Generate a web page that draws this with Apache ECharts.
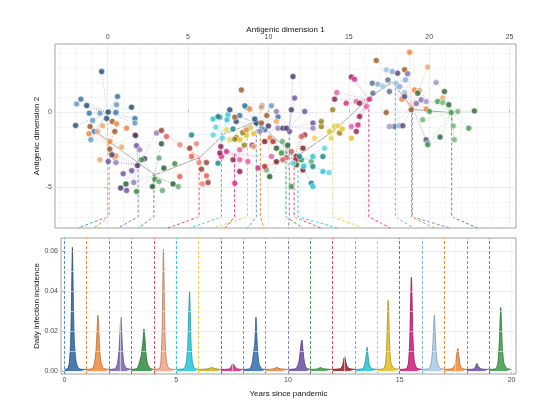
<!DOCTYPE html>
<html><head><meta charset="utf-8">
<script src="https://cdn.jsdelivr.net/npm/echarts@6/dist/echarts.min.js"></script>
<style>html,body{margin:0;padding:0;background:#fff}#c{width:536px;height:416px}</style>
</head><body><div id="c"></div>
<script>
// ---------------- DATA ----------------
const years = [0,1,2,3,4,5,6,7,8,9,10,11,12,13,14,15,16,17,18,19];
const centerX = [0.0, 0.1, 1.9, 2.88, 5.69, 7.08, 8.7, 7.9, 9.25, 9.5, 11.3, 11.1, 11.6, 11.84, 14.0, 16.25, 17.9, 18.9, 18.95, 21.4];
const centerY = [0.0, -2.3, -3.5, -4.2, -3.0, -1.45, -1.7, -2.8, -0.8, -0.7, -1.0, -2.6, -3.0, -3.2, -1.3, 0.9, 2.0, 0.2, 0.35, 0.0];
const pathX = [-1.1, 2.95, 5.75, 7.3, 9.3, 11.7, 14.1, 16.3, 17.7, 19.0, 21.3];
const pathY = [-1.0, -4.2, -3.0, -1.4, -0.6, -3.0, -1.2, 1.0, 2.05, 0.2, 0.0];

const pts0 = [[-0.37,2.75],[-1.66,0.9],[-1.93,0.58],[-1.3,0.47],[0.62,1.07],[0.56,0.52],[1.49,0.36],[-1.14,-0.04],[-0.48,-0.04],[0.04,0.03],[0.52,0.0],[-0.93,-0.54],[-0.06,-0.4],[1.7,-0.4],[1.7,-0.71],[-1.99,-0.87],[-0.83,-1.27],[-1.04,-1.83]];
const pts1 = [[0.29,-0.6],[0.56,-0.76],[-0.31,-0.89],[-1.09,-0.94],[-1.16,-1.43],[-0.62,-1.27],[0.45,-1.27],[0.14,-1.95],[0.87,-2.32],[0.14,-2.46],[0.45,-3.0],[-0.48,-3.17],[1.7,-1.5],[1.18,-1.05],[0.52,-2.9]];
const pts2 = [[1.74,-1.54],[1.8,-2.23],[2.0,-2.5],[0.27,-2.84],[0.04,-3.29],[0.52,-3.36],[1.86,-3.56],[0.97,-4.11],[1.63,-4.7],[0.81,-5.07],[1.18,-5.23],[3.04,-1.38],[2.3,-3.1],[1.5,-3.9]];
const pts3 = [[3.35,-2.1],[2.11,-3.17],[3.2,-3.06],[3.5,-3.73],[2.94,-4.47],[3.2,-4.63],[1.14,-4.79],[1.8,-5.3],[3.41,-5.23],[2.79,-4.97],[4.18,-3.44],[4.39,-4.97],[4.07,-4.79]];
const pts4 = [[3.35,-1.21],[3.66,-1.61],[4.49,-2.17],[5.11,-2.39],[5.22,-2.95],[5.69,-3.36],[5.84,-3.8],[6.15,-4.25],[5.9,-4.79],[6.25,-4.7],[4.49,-4.3],[5.53,-2.1],[6.15,-3.36]];
const pts5 = [[5.22,-1.5],[6.56,-0.44],[6.73,-0.98],[6.98,-0.31],[7.49,-0.15],[7.14,-1.72],[6.87,-3.4],[7.43,-0.49],[6.56,-1.5],[6.87,-0.27],[8.63,0.36],[8.84,-1.05],[7.8,-1.1]];
const pts6 = [[8.01,-1.68],[8.22,-1.83],[7.6,-1.83],[7.91,-1.79],[8.63,-1.5],[7.39,-1.16],[8.5,-2.2],[9.1,-1.4],[8.9,-1.0],[8.4,-1.35]];
const pts7 = [[7.04,-2.28],[7.39,-2.62],[8.22,-2.5],[7.8,-3.17],[7.08,-2.95],[8.73,-3.29],[8.22,-3.96],[9.35,-3.73],[10.19,-2.95],[6.98,-2.72],[7.91,-4.74],[8.22,-3.17],[9.0,-2.2]];
const pts8 = [[7.6,0.18],[8.22,-0.2],[9.6,0.45],[9.25,-0.71],[8.53,0.45],[10.19,0.45],[9.15,-0.44],[9.77,-1.16],[9.57,-1.05],[8.0,-0.6],[10.6,-0.3]];
const pts9 = [[8.32,1.52],[8.84,0.23],[9.57,0.36],[9.57,-0.71],[8.63,-1.16],[10.5,-0.6],[7.91,-0.31],[10.1,-1.7],[9.1,-2.3],[9.9,-0.2]];
const pts10 = [[11.53,2.42],[11.63,0.97],[10.5,0.07],[11.43,0.18],[12.26,0.07],[10.6,-1.05],[10.9,-1.05],[11.32,-1.27],[9.46,-1.27],[11.12,-1.05],[12.77,-0.71],[12.77,-1.05],[10.0,-0.9]];
const pts11 = [[10.5,-2.39],[10.81,-2.72],[9.88,-3.85],[11.74,-3.51],[12.05,-3.17],[12.67,-3.29],[10.08,-4.3],[11.43,-4.97],[10.87,-1.95],[11.2,-2.2]];
const pts12 = [[9.77,-1.95],[10.29,-1.95],[11.43,-2.62],[11.74,-2.95],[9.77,-3.62],[11.12,-3.02],[12.15,-3.85],[12.26,-1.5],[12.05,-1.61],[12.15,-2.39],[11.7,-3.17],[10.9,-3.17],[10.5,-3.3]];
const pts13 = [[11.94,-2.95],[12.77,-2.95],[13.5,-2.39],[12.77,-3.62],[13.39,-3.96],[13.77,-4.03],[12.67,-4.74],[12.77,-4.97],[11.53,-3.4],[13.39,-2.95],[12.2,-3.6]];
const pts14 = [[14.0,0.18],[14.12,-0.94],[14.32,-0.89],[14.43,-1.38],[13.81,-1.27],[12.87,-1.72],[13.29,-0.94],[15.16,-1.72],[13.91,-1.72],[13.29,-0.6],[14.6,-1.1]];
const pts15 = [[15.16,2.38],[15.36,2.24],[14.26,1.34],[14.12,0.9],[14.84,0.63],[15.47,0.74],[15.67,0.63],[16.29,0.9],[16.09,0.4],[15.67,-0.27],[15.57,-0.83],[15.16,-0.94],[15.47,-1.27]];
const pts16 = [[16.46,1.97],[16.81,1.9],[17.12,1.74],[17.43,2.19],[17.7,2.75],[17.95,1.97],[17.53,1.41],[18.16,1.74],[18.47,1.34],[16.5,1.3],[18.53,2.19],[17.33,2.87],[17.84,-0.94],[18.16,-0.89]];
const pts17 = [[16.71,3.49],[18.78,4.05],[19.91,3.05],[18.47,2.87],[19.09,1.52],[19.4,1.48],[18.88,0.18],[19.81,0.23],[20.84,0.97],[17.33,0.0],[18.3,0.9]];
const pts18 = [[18.04,2.64],[18.66,2.6],[20.43,2.01],[18.47,1.07],[19.5,0.85],[19.81,0.74],[19.81,-1.83],[19.91,-2.06],[17.53,-0.94],[18.36,-0.89],[19.2,0.6]];
const pts19 = [[20.95,1.41],[20.53,0.74],[20.84,0.67],[21.22,0.52],[21.37,0.0],[21.78,0.07],[22.81,0.11],[22.46,-1.05],[21.57,-1.83],[20.68,-1.65],[19.91,-2.17],[19.6,-0.49],[19.29,1.3],[20.02,0.07],[21.5,-0.9]];
const clusterPoints = [pts0,pts1,pts2,pts3,pts4,pts5,pts6,pts7,pts8,pts9,pts10,pts11,pts12,pts13,pts14,pts15,pts16,pts17,pts18,pts19];

const season0 = [[0,0.0008],[0.15,0.0012],[0.22,0.004],[0.28,0.014],[0.32,0.035],[0.345,0.055],[0.36,0.062],[0.38,0.05],[0.41,0.03],[0.45,0.014],[0.52,0.005],[0.62,0.0015],[0.75,0.0009],[1,0.0008]];
const season1 = [[1,0.0008],[1.25,0.0012],[1.35,0.004],[1.42,0.011],[1.47,0.022],[1.5,0.028],[1.53,0.024],[1.57,0.013],[1.63,0.005],[1.72,0.0018],[1.85,0.001],[2,0.0008]];
const season2 = [[2,0.0008],[2.28,0.0012],[2.38,0.004],[2.45,0.011],[2.5,0.022],[2.53,0.027],[2.56,0.021],[2.6,0.011],[2.66,0.004],[2.76,0.0015],[3,0.0008]];
const season3 = [[3,0.0008],[3.25,0.0013],[3.35,0.004],[3.44,0.008],[3.51,0.014],[3.56,0.021],[3.6,0.017],[3.65,0.009],[3.72,0.0035],[3.85,0.0013],[4,0.0008]];
const season4 = [[4,0.0008],[4.25,0.0012],[4.32,0.005],[4.37,0.02],[4.405,0.046],[4.43,0.061],[4.455,0.05],[4.49,0.024],[4.54,0.008],[4.62,0.0022],[4.75,0.001],[5,0.0008]];
const season5 = [[5,0.0008],[5.35,0.0012],[5.45,0.004],[5.52,0.013],[5.565,0.03],[5.6,0.04],[5.63,0.03],[5.67,0.013],[5.73,0.004],[5.83,0.0013],[6,0.0008]];
const season6 = [[6,0.0008],[6.35,0.001],[6.5,0.0014],[6.59,0.0018],[6.7,0.0013],[6.85,0.001],[7,0.0008]];
const season7 = [[7,0.0008],[7.35,0.001],[7.45,0.002],[7.53,0.0036],[7.6,0.0028],[7.7,0.0013],[7.85,0.0009],[8,0.0008]];
const season8 = [[8,0.0008],[8.3,0.0012],[8.4,0.004],[8.47,0.01],[8.51,0.013],[8.55,0.022],[8.57,0.027],[8.6,0.02],[8.65,0.009],[8.72,0.003],[8.85,0.001],[9,0.0008]];
const season9 = [[9,0.0008],[9.3,0.001],[9.42,0.0014],[9.51,0.0018],[9.6,0.0013],[9.75,0.001],[10,0.0008]];
const season10 = [[10,0.0008],[10.35,0.0012],[10.48,0.004],[10.55,0.01],[10.6,0.015],[10.63,0.0155],[10.67,0.011],[10.73,0.005],[10.82,0.0015],[11,0.0008]];
const season11 = [[11,0.0008],[11.3,0.001],[11.4,0.0015],[11.46,0.0018],[11.55,0.0013],[11.7,0.001],[12,0.0008]];
const season12 = [[12,0.0008],[12.35,0.0012],[12.45,0.003],[12.5,0.006],[12.54,0.0072],[12.58,0.005],[12.64,0.0025],[12.75,0.0012],[13,0.0008]];
const season13 = [[13,0.0008],[13.35,0.0012],[13.45,0.004],[13.51,0.009],[13.54,0.012],[13.58,0.008],[13.64,0.003],[13.75,0.0012],[14,0.0008]];
const season14 = [[14,0.0008],[14.28,0.0012],[14.37,0.004],[14.42,0.014],[14.455,0.028],[14.48,0.0355],[14.51,0.028],[14.55,0.012],[14.61,0.004],[14.72,0.0015],[15,0.0008]];
const season15 = [[15,0.0008],[15.3,0.0012],[15.39,0.004],[15.45,0.016],[15.49,0.036],[15.52,0.047],[15.55,0.037],[15.59,0.017],[15.65,0.005],[15.76,0.0015],[16,0.0008]];
const season16 = [[16,0.0008],[16.3,0.0012],[16.41,0.004],[16.48,0.013],[16.52,0.023],[16.55,0.028],[16.58,0.022],[16.62,0.011],[16.68,0.004],[16.8,0.0014],[17,0.0008]];
const season17 = [[17,0.0008],[17.35,0.0012],[17.47,0.003],[17.54,0.008],[17.6,0.0113],[17.64,0.008],[17.7,0.003],[17.8,0.0012],[18,0.0008]];
const season18 = [[18,0.0008],[18.3,0.001],[18.38,0.002],[18.45,0.0038],[18.5,0.0025],[18.6,0.0013],[18.75,0.0009],[19,0.0008]];
const season19 = [[19,0.0008],[19.3,0.0012],[19.39,0.004],[19.45,0.014],[19.49,0.026],[19.52,0.032],[19.55,0.025],[19.59,0.012],[19.66,0.004],[19.78,0.0014],[20,0.0008]];
const seasons = [season0,season1,season2,season3,season4,season5,season6,season7,season8,season9,season10,season11,season12,season13,season14,season15,season16,season17,season18,season19];

const xTicksTop = [0,5,10,15,20,25];
const yTicksTop = [-5,0];
const xTicksBottom = [0,5,10,15,20];
const yTicksBottom = [0,0.02,0.04,0.06];
const yLabelsBottom = ['0.00','0.02','0.04','0.06'];

// ---------------- STYLE ----------------
const clusterColors = ['#2f6fad','#ee8133','#6a4ea0','#2e8b3e','#e4574a','#22c3d4','#e2bf1e','#d6237e','#2f6fad','#ee8133','#6a4ea0','#2e8b3e','#b8222c','#22c3d4','#e2bf1e','#d6237e','#7fa8d6','#ee8133','#7b6bb0','#3d9a4a'];
const peakColors = ['#2b63a0','#f08a3a','#7a62b0','#2e8b3e','#f3a283','#22c8d8','#cdb21c','#d6237e','#2f6fad','#e88a3a','#6a4ea0','#3d9a4a','#9b1c24','#22c3d4','#e2bf1e','#cf1877','#a8c9e6','#f08a3a','#6a4ea0','#3d9a4a'];
const dashColors = ['#5b8fc7','#f0883a','#8a7fc0','#4f9e5a','#e8505a','#2fd0e0','#ecd040','#e0408e','#5b9bd5','#f0883a','#8a7fc0','#4f9e5a','#e8505a','#2fd0e0','#ecd040','#e0408e','#7fb3e0','#f0883a','#8c8cb8','#4f9e5a'];
const FONT = "'Liberation Sans', Arial, sans-serif";

function mix(hex, target, t){
  const r=parseInt(hex.slice(1,3),16), g=parseInt(hex.slice(3,5),16), b=parseInt(hex.slice(5,7),16);
  const f=(c)=>Math.round(c+(target-c)*t);
  return 'rgb('+f(r)+','+f(g)+','+f(b)+')';
}
function shade(hex,i){ const m=i%3; if(m===0) return mix(hex,0,0.35); if(m===2) return mix(hex,255,0.25); return hex; }

const X1=[-3.27,25.4], Y1=[-7.75,4.6], X2=[-0.15,20.2], Y2=[-0.0015,0.0667];
const bendY = -7.0;

const chart = echarts.init(document.getElementById('c'), null, {renderer:'canvas'});

function gridLines(xs, ys, colorFn){
  const d=[];
  xs.forEach(v=>d.push({xAxis:v, lineStyle:{color:colorFn(v,'x'), width:0.6, type:'solid'}}));
  ys.forEach(v=>d.push({yAxis:v, lineStyle:{color:colorFn(v,'y'), width:0.6, type:'solid'}}));
  return d;
}
const topGX=[], topGY=[], botGY=[], botGX=[];
for(let v=-3; v<=25; v++) topGX.push(v);
for(let v=-7; v<=4; v++) topGY.push(v);
for(let v=0; v<=6; v++) botGY.push(v/100);
for(let v=0; v<=8; v++) botGX.push(v*2.5);

const series=[];
series.push({
  type:'line', xAxisIndex:0, yAxisIndex:0, z:1, silent:true,
  data: pathX.map((x,i)=>[x,pathY[i]]), showSymbol:false,
  lineStyle:{color:'#a8a8a8', width:1},
  markLine:{silent:true, symbol:['none','none'], label:{show:false}, animation:false,
    data: gridLines(topGX, topGY, (v)=> (v%5===0 ? '#e2e2e2':'#efefef'))}
});
series.push({
  type:'line', xAxisIndex:1, yAxisIndex:1, z:0, silent:true, data:[[0,0]], showSymbol:false,
  lineStyle:{opacity:0},
  markLine:{silent:true, symbol:['none','none'], label:{show:false}, animation:false,
    data: gridLines(botGX, botGY, (v,a)=> a==='y' ? (Math.round(v*100)%2===0?'#e2e2e2':'#efefef') : '#f2f2f2')}
});
series.push({
  type:'line', xAxisIndex:1, yAxisIndex:1, z:1, silent:true, data:[[0,0]], showSymbol:false,
  lineStyle:{opacity:0},
  markLine:{silent:true, symbol:['none','none'], label:{show:false}, animation:false,
    data: years.map((y,k)=>({xAxis:y, lineStyle:{color:dashColors[k], width:1, type:[3,2]}}))}
});
clusterPoints.forEach((pts,k)=>{
  series.push({
    type:'lines', coordinateSystem:'cartesian2d', xAxisIndex:0, yAxisIndex:0, z:2, silent:true,
    data: pts.map(p=>({coords:[p,[centerX[k],centerY[k]]]})),
    lineStyle:{color:clusterColors[k], width:0.7, type:[1,1.5], opacity:0.55}
  });
});
clusterPoints.forEach((pts,k)=>{
  series.push({
    type:'scatter', xAxisIndex:0, yAxisIndex:0, z:5, silent:true,
    data: pts, symbolSize:6,
    itemStyle:{color:(p)=>shade(clusterColors[k],p.dataIndex), borderColor:'rgba(255,255,255,0.8)', borderWidth:0.8}
  });
});
seasons.forEach((s,k)=>{
  series.push({
    type:'line', xAxisIndex:1, yAxisIndex:1, z:3, silent:true,
    data:s, showSymbol:false, smooth:0.2,
    lineStyle:{color:mix(peakColors[k],0,0.25), width:0.8},
    areaStyle:{color:peakColors[k], opacity:0.85}
  });
});

const axisLabelStyle = {fontSize:7, color:'#4d4d4d', fontFamily:FONT};
const nameStyle = {fontSize:8, color:'#111', fontFamily:FONT};
const option = {
  animation:false,
  backgroundColor:'#fff',
  grid:[
    {left:55, top:44, width:461, height:184, show:true, borderColor:'#8a8a8a', borderWidth:0.8, backgroundColor:'transparent'},
    {left:61, top:238, width:455, height:136, show:true, borderColor:'#8a8a8a', borderWidth:0.8, backgroundColor:'transparent'}
  ],
  xAxis:[
    {gridIndex:0, type:'value', position:'top', min:X1[0], max:X1[1],
      axisLine:{show:false}, splitLine:{show:false},
      axisTick:{show:true, length:3, customValues:xTicksTop, lineStyle:{color:'#444', width:0.7}},
      axisLabel:{show:true, customValues:xTicksTop, margin:3, ...axisLabelStyle},
      name:'Antigenic dimension 1', nameLocation:'middle', nameGap:10, nameMoveOverlap:false, nameTextStyle:nameStyle},
    {gridIndex:1, type:'value', position:'bottom', min:X2[0], max:X2[1],
      axisLine:{show:false}, splitLine:{show:false},
      axisTick:{show:true, length:3, customValues:xTicksBottom, lineStyle:{color:'#444', width:0.7}},
      axisLabel:{show:true, customValues:xTicksBottom, margin:3, ...axisLabelStyle},
      name:'Years since pandemic', nameLocation:'middle', nameGap:16, nameMoveOverlap:false, nameTextStyle:nameStyle}
  ],
  yAxis:[
    {gridIndex:0, type:'value', min:Y1[0], max:Y1[1],
      axisLine:{show:false}, splitLine:{show:false},
      axisTick:{show:true, length:3, customValues:yTicksTop, lineStyle:{color:'#444', width:0.7}},
      axisLabel:{show:true, customValues:yTicksTop, margin:3, ...axisLabelStyle},
      name:'Antigenic dimension 2', nameLocation:'middle', nameGap:14, nameMoveOverlap:false, nameRotate:90, nameTextStyle:nameStyle},
    {gridIndex:1, type:'value', min:Y2[0], max:Y2[1],
      axisLine:{show:false}, splitLine:{show:false},
      axisTick:{show:true, length:3, customValues:yTicksBottom, lineStyle:{color:'#444', width:0.7}},
      axisLabel:{show:true, customValues:yTicksBottom, margin:3, ...axisLabelStyle,
        formatter:(v)=>{const i=yTicksBottom.findIndex(t=>Math.abs(t-v)<1e-9); return i>=0?yLabelsBottom[i]:'';}},
      name:'Daily infection incidence', nameLocation:'middle', nameGap:20, nameMoveOverlap:false, nameRotate:90, nameTextStyle:nameStyle}
  ],
  series: series
};
chart.setOption(option);

// connectors: vertical from cluster centre, then diagonal toward the year line between the panels
const pyBend = chart.convertToPixel({yAxisIndex:0}, bendY);
const pyB1 = chart.convertToPixel({yAxisIndex:0}, Y1[0]);
const pyTop2 = chart.convertToPixel({yAxisIndex:1}, Y2[1]);
const pyTarget = (pyB1 + pyTop2) / 2;
const conn=[];
years.forEach((yr,k)=>{
  const pxC = chart.convertToPixel({xAxisIndex:0}, centerX[k]);
  const pxY = chart.convertToPixel({xAxisIndex:1}, yr);
  const xPix = pxC + (pxY-pxC)*(pyB1-pyBend)/(pyTarget-pyBend);
  const xEnd = chart.convertFromPixel({xAxisIndex:0}, xPix);
  conn.push({
    type:'line', xAxisIndex:0, yAxisIndex:0, z:3, silent:true, showSymbol:false,
    data:[[centerX[k],centerY[k]],[centerX[k],bendY],[xEnd,Y1[0]]],
    lineStyle:{color:dashColors[k], width:1, type:[3,2]}
  });
});
chart.setOption({series: series.concat(conn)});
</script>
</body></html>
